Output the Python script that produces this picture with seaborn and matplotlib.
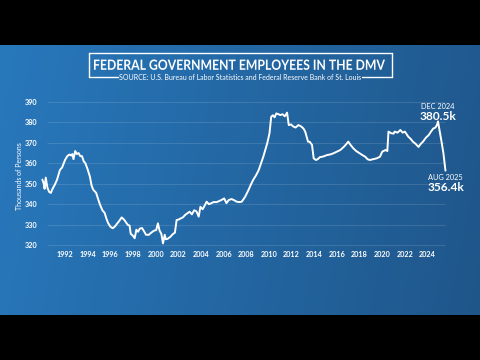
import numpy as np
import pandas as pd
import matplotlib
matplotlib.use("Agg")
import matplotlib.pyplot as plt
import seaborn as sns
from matplotlib.lines import Line2D
from matplotlib.textpath import TextPath
from matplotlib.patches import PathPatch
from matplotlib.font_manager import FontProperties
from matplotlib.transforms import Affine2D, IdentityTransform

# ---- data (decimal year, thousands of persons) ----
years = [1990.00, 1990.10, 1990.20, 1990.30, 1990.45, 1990.60, 1990.75, 1990.90,
         1991.10, 1991.30, 1991.55, 1991.75, 1992.00, 1992.20, 1992.40, 1992.55,
         1992.65, 1992.75, 1992.90, 1993.05, 1993.20, 1993.35, 1993.50, 1993.65,
         1993.80, 1994.00, 1994.20, 1994.35, 1994.50, 1994.75, 1994.95, 1995.10,
         1995.30, 1995.50, 1995.65, 1995.80, 1996.00, 1996.20, 1996.40, 1996.60,
         1996.75, 1997.00, 1997.20, 1997.40, 1997.55, 1997.70, 1997.80, 1998.00,
         1998.15, 1998.30, 1998.45, 1998.60, 1998.80, 1999.00, 1999.15, 1999.40,
         1999.60, 1999.85, 2000.05, 2000.20, 2000.35, 2000.50, 2000.65, 2000.80,
         2000.90, 2001.05, 2001.30, 2001.55, 2001.70, 2001.85, 2002.05, 2002.20,
         2002.40, 2002.60, 2002.80, 2003.00, 2003.20, 2003.40, 2003.60, 2003.80,
         2003.95, 2004.15, 2004.30, 2004.50, 2004.70, 2004.90, 2005.10, 2005.40,
         2005.60, 2005.80, 2006.05, 2006.25, 2006.45, 2006.70, 2006.90, 2007.15,
         2007.40, 2007.60, 2007.90, 2008.20, 2008.40, 2008.60, 2008.85, 2009.10,
         2009.30, 2009.50, 2009.70, 2009.85, 2010.05, 2010.20, 2010.35, 2010.50,
         2010.65, 2010.85, 2011.00, 2011.20, 2011.40, 2011.60, 2011.75, 2011.95,
         2012.15, 2012.35, 2012.60, 2012.85, 2013.05, 2013.20, 2013.45, 2013.60,
         2013.80, 2013.95, 2014.15, 2014.30, 2014.50, 2014.70, 2014.90, 2015.10,
         2015.40, 2015.70, 2016.00, 2016.30, 2016.60, 2016.85, 2017.00, 2017.20,
         2017.45, 2017.70, 2018.00, 2018.25, 2018.50, 2018.70, 2018.90, 2019.20,
         2019.50, 2019.80, 2020.00, 2020.30, 2020.45, 2020.55, 2020.80, 2021.00,
         2021.10, 2021.35, 2021.60, 2021.80, 2022.00, 2022.30, 2022.50, 2022.70,
         2022.95, 2023.20, 2023.40, 2023.60, 2023.85, 2024.10, 2024.30, 2024.50,
         2024.70, 2024.85, 2024.92, 2025.08, 2025.25, 2025.40, 2025.58]
employees = [352.0, 350.5, 347.5, 353.0, 348.0, 346.0, 345.5, 347.5,
             349.5, 352.0, 356.7, 358.0, 361.6, 363.5, 364.3, 363.8,
             364.5, 362.0, 366.0, 364.5, 365.0, 363.5, 363.5, 361.0,
             360.0, 357.0, 353.4, 349.0, 347.0, 345.5, 342.0, 339.6,
             337.0, 335.7, 333.0, 330.8, 329.0, 328.2, 329.0, 330.5,
             331.5, 333.5, 332.5, 331.0, 329.8, 329.5, 325.5, 324.5,
             323.3, 327.5, 326.5, 328.0, 328.3, 326.5, 325.0, 325.0,
             326.0, 327.0, 327.3, 330.6, 327.0, 325.5, 320.8, 325.0,
             322.8, 323.0, 324.0, 325.5, 326.0, 332.2, 332.5, 333.0,
             333.5, 334.7, 335.5, 336.3, 335.0, 337.0, 336.5, 333.9,
             338.7, 337.5, 339.0, 341.2, 340.0, 340.4, 341.0, 341.0,
             341.5, 342.0, 342.8, 340.5, 342.0, 342.5, 342.0, 341.2,
             341.0, 341.2, 343.6, 347.0, 349.5, 351.8, 354.0, 356.7,
             360.0, 363.2, 367.0, 369.8, 374.7, 382.8, 383.5, 382.5,
             384.4, 384.0, 383.6, 384.0, 383.0, 384.8, 378.7, 379.0,
             378.0, 377.5, 378.7, 378.0, 377.0, 375.5, 370.6, 370.5,
             369.0, 362.4, 361.6, 362.0, 363.0, 363.2, 363.5, 364.0,
             364.3, 364.9, 365.7, 366.5, 368.0, 369.5, 370.6, 369.0,
             367.3, 366.0, 364.9, 364.0, 363.2, 362.0, 361.6, 362.0,
             362.4, 363.2, 365.7, 366.5, 366.0, 375.5, 374.7, 374.5,
             375.5, 375.0, 376.3, 375.0, 375.5, 373.0, 372.0, 370.6,
             369.5, 368.0, 369.5, 370.6, 372.5, 373.8, 375.5, 377.0,
             377.5, 379.0, 380.5, 375.5, 370.0, 364.9, 356.4]

x_ticks = [1992, 1994, 1996, 1998, 2000, 2002, 2004, 2006, 2008, 2010, 2012,
           2014, 2016, 2018, 2020, 2022, 2024]
y_ticks = [320, 330, 340, 350, 360, 370, 380, 390]

title = "FEDERAL GOVERNMENT EMPLOYEES IN THE DMV"
source = "SOURCE: U.S. Bureau of Labor Statistics and Federal Reserve Bank of St. Louis"
y_label = "Thousands of Persons"
ann_labels = [("DEC 2024", "380.5k", 2024.92, 380.5), ("AUG 2025", "356.4k", 2025.58, 356.4)]

df = pd.DataFrame({"year": years, "value": employees})

sns.set_theme(style="white")
plt.rcParams['font.family'] = ['Lato', 'DejaVu Sans']

W, H = 480, 360
fig = plt.figure(figsize=(W / 100, H / 100), dpi=100, facecolor="black")

# blue gradient panel (y 45..315 px)
bg = fig.add_axes([0, 45 / H, 1, 270 / H])
bg.set_axis_off()
nx, ny = 200, 60
gx = np.linspace(0, 1, nx)[None, :]
gy = np.linspace(0, 1, ny)[:, None]
left = np.array([40, 120, 188]) / 255
right = np.array([31, 86, 138]) / 255
t = np.clip(gx * 0.9 + gy * 0.1, 0, 1)
img = left[None, None, :] * (1 - t[..., None]) + right[None, None, :] * t[..., None]
bg.imshow(img, aspect="auto", extent=[0, 1, 0, 1], origin="upper")
bg.set_xlim(0, 1)
bg.set_ylim(0, 1)


def fx(px):
    return px / W


def fy(py):
    return 1 - py / H


# title box
box_l, box_r, box_t, box_b = 88.5, 391.5, 53, 77
for (x0, y0, x1, y1) in [(box_l, box_t, box_r, box_t), (box_l, box_t, box_l, box_b),
                         (box_r, box_t, box_r, box_b), (box_l, box_b, 118, box_b),
                         (362, box_b, box_r, box_b)]:
    fig.add_artist(Line2D([fx(x0), fx(x1)], [fy(y0), fy(y1)], color="white", lw=1.0))

# condensed bold title drawn as a path (squeezed horizontally)
tp = TextPath((0, 0), title, size=1.0, prop=FontProperties(family="Lato", weight="bold"))
ext = tp.get_extents()
cap_h = TextPath((0, 0), "E", size=1.0,
                 prop=FontProperties(family="Lato", weight="bold")).get_extents().height
target_w, target_cap = 291.0, 10.2
sx = target_w / ext.width
sy = target_cap / cap_h
cx_px, base_px = 239.5, 69.8
tr = (Affine2D().translate(-ext.x0 - ext.width / 2, 0).scale(sx, sy)
      .translate(cx_px, H - base_px) + IdentityTransform())
fig.add_artist(PathPatch(tp, transform=tr, facecolor="white", edgecolor="none", lw=0))

fig.text(fx(240), fy(77), source, color="white", fontsize=5.0,
         ha="center", va="center")

# main axes
ax_l, ax_r, ax_t, ax_b = 40, 450, 95, 250
ax = fig.add_axes([ax_l / W, 1 - ax_b / H, (ax_r - ax_l) / W, (ax_b - ax_t) / H])
ax.set_facecolor("none")
x_per_px = 2 / 22.66
x0 = 1992 + (ax_l - 65) * x_per_px
x1 = 1992 + (ax_r - 65) * x_per_px
v_per_px = 10 / 20.43
y0 = 320 + (245 - ax_b) * v_per_px
y1 = 320 + (245 - ax_t) * v_per_px

g0 = 1992 + (47 - 65) * x_per_px
g1 = 1992 + (445 - 65) * x_per_px
ax.hlines(y_ticks, g0, g1, color="white", alpha=0.12, lw=0.8, zorder=1)

sns.lineplot(data=df, x="year", y="value", ax=ax, color="white", lw=1.4, zorder=3)
ax.set_xlim(x0, x1)
ax.set_ylim(y0, y1)
for s in ax.spines.values():
    s.set_visible(False)
ax.set_xticks(x_ticks)
ax.set_xticklabels([str(v) for v in x_ticks])
ax.set_yticks(y_ticks)
ax.set_yticklabels([str(v) for v in y_ticks])
ax.tick_params(axis="both", length=0, colors="white", labelsize=5.2)
ax.tick_params(axis="y", pad=2)
ax.tick_params(axis="x", pad=1)
for lab in ax.get_xticklabels() + ax.get_yticklabels():
    lab.set_fontweight("bold")
ax.set_xlabel("")
ax.set_ylabel("")
fig.text(fx(19.5), fy(176), y_label, color="white", fontsize=5.0, rotation=90,
         ha="center", va="center")

# annotations (baseline-anchored)
for small, big, xv, yv in ann_labels:
    if yv > 370:
        off_small, off_big = 8.8, 1.2
    else:
        off_small, off_big = -6.6, -14.4
    ax.annotate(small, (xv, yv), xytext=(0, off_small), textcoords="offset points",
                ha="center", va="baseline", color="white", fontsize=5.3)
    ax.annotate(big, (xv, yv), xytext=(0, off_big), textcoords="offset points",
                ha="center", va="baseline", color="white", fontsize=8.6, fontweight="bold")

fig.savefig("out.png", dpi=100, facecolor="black")
